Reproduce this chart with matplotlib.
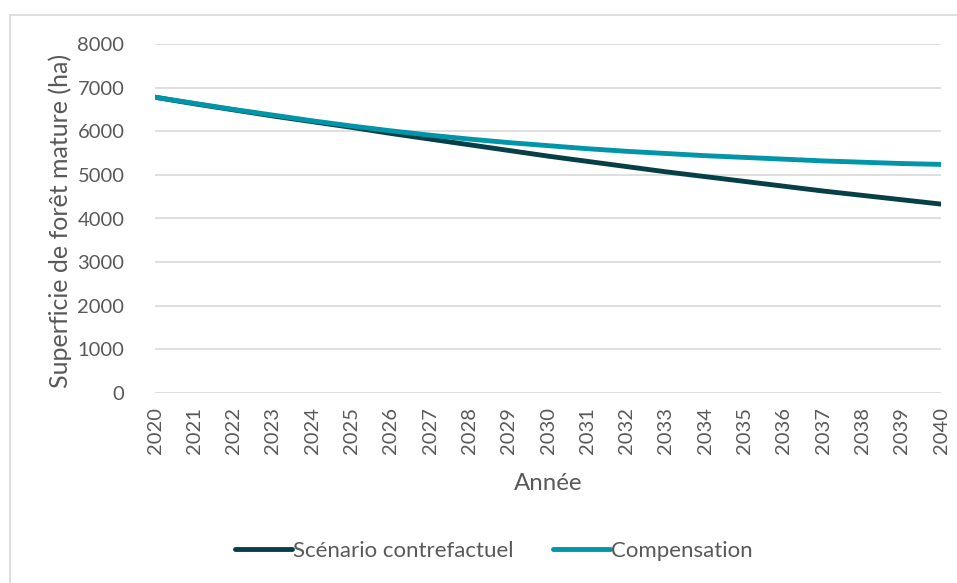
import matplotlib
matplotlib.use("Agg")
import matplotlib.pyplot as plt
from matplotlib.patches import Rectangle

years = list(range(2020, 2041))
scenario_contrefactuel = [6780, 6630, 6490, 6350, 6220, 6090, 5950, 5820, 5690, 5560,
                          5430, 5310, 5190, 5070, 4960, 4850, 4740, 4630, 4530, 4430, 4330]
compensation = [6780, 6640, 6500, 6370, 6240, 6120, 6010, 5910, 5820, 5740,
                5670, 5600, 5540, 5490, 5440, 5400, 5360, 5320, 5290, 5260, 5240]
y_ticks = [0, 1000, 2000, 3000, 4000, 5000, 6000, 7000, 8000]
series_labels = ["Scénario contrefactuel", "Compensation"]
xlabel = "Année"
ylabel = "Superficie de forêt mature (ha)"

plt.rcParams['font.family'] = ['Lato', 'DejaVu Sans']
txt = "#595959"
fs = 14.5

fig = plt.figure(figsize=(9.57, 5.83), dpi=100)
fig.patches.append(Rectangle((10/957, -0.1), 1.2, (583-15)/583 + 0.1,
                             transform=fig.transFigure, fill=False,
                             edgecolor="#d9d9d9", linewidth=1.2))
ax = fig.add_axes([155/957, 1-393/583, (941-155)/957, (393-44)/583])

ax.plot(years, scenario_contrefactuel, color="#073f47", lw=3.5,
        label=series_labels[0], solid_capstyle="round")
ax.plot(years, compensation, color="#0095a8", lw=3.5,
        label=series_labels[1], solid_capstyle="round")

ax.set_xlim(2020, 2040)
ax.set_ylim(0, 8000)
ax.set_yticks(y_ticks)
ax.set_yticklabels([str(v) for v in y_ticks], fontsize=fs, color=txt)
ax.set_xticks(years)
ax.set_xticklabels([str(y) for y in years], rotation=90, fontsize=fs, color=txt)
ax.tick_params(axis='both', length=0)
ax.tick_params(axis='y', pad=22)
ax.tick_params(axis='x', pad=10)
ax.grid(axis='y', color="#d9d9d9", lw=1.2)
ax.set_axisbelow(True)
for s in ax.spines.values():
    s.set_visible(False)

fig.text(548/957, 1-484/583, xlabel, ha='center', va='center', fontsize=17.3, color=txt)
fig.text(60/957, 1-221/583, ylabel, ha='center', va='center', rotation=90, fontsize=18, color=txt)

leg = fig.legend(loc='center', bbox_to_anchor=(494/957, 1-551/583), ncol=2,
                 frameon=False, fontsize=16, handlelength=2.55, handletextpad=0.05,
                 columnspacing=1.8, borderpad=0, borderaxespad=0)
for t in leg.get_texts():
    t.set_color(txt)

fig.savefig("out.png", dpi=100)
